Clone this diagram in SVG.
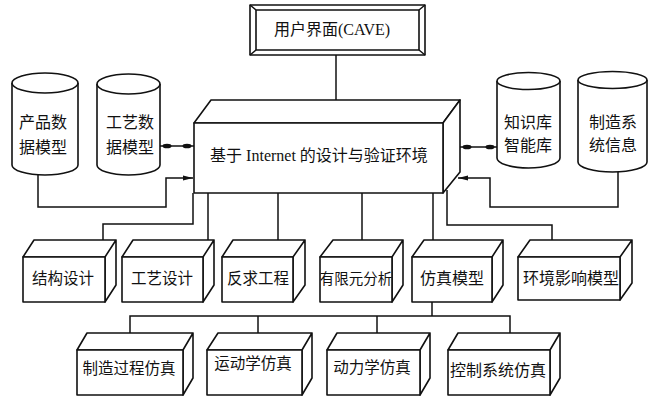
<svg xmlns="http://www.w3.org/2000/svg" width="655" height="397" viewBox="0 0 655 397">
<style>
.s{fill:#fff;stroke:#111;stroke-width:1.6;stroke-linejoin:round}
.c{fill:none;stroke:#111;stroke-width:1.5}
.t{font-family:"Liberation Serif","Noto Sans CJK SC",serif;font-size:15.5px;fill:#111;text-anchor:middle}
</style>
<defs>
<marker id="dot" markerUnits="userSpaceOnUse" markerWidth="14" markerHeight="8" viewBox="-12 -4 14 8" refX="0" refY="0" orient="auto-start-reverse" overflow="visible">
<ellipse cx="-7" cy="0" rx="4.5" ry="2.3" fill="#111"/>
</marker>
<marker id="arr" markerUnits="userSpaceOnUse" markerWidth="12" markerHeight="8" viewBox="-11 -4 12 8" refX="0" refY="0" orient="auto" overflow="visible">
<path d="M-10,-2.6 L0,0 L-10,2.6 z" fill="#111"/>
</marker>
</defs>
<rect width="655" height="397" fill="#fff"/>
<g id="connectors">
<path class="c" d="M336,55 V100"/>
<path class="c" d="M160,146 H194" marker-start="url(#dot)" marker-end="url(#dot)"/>
<path class="c" d="M38,175 V207 H166 V178 H193" marker-end="url(#arr)"/>
<path class="c" d="M460,147 H497" marker-start="url(#dot)" marker-end="url(#dot)"/>
<path class="c" d="M618,172 V207 H490 V178 H458" marker-end="url(#arr)"/>
<path class="c" d="M193,193 V224 H103 V240"/>
<path class="c" d="M208,193 V240"/>
<path class="c" d="M278,193 V242"/>
<path class="c" d="M362,193 V240"/>
<path class="c" d="M433,193 V240"/>
<path class="c" d="M447,190 V225 H552 V240"/>
<path class="c" d="M432,302 V316"/>
<path class="c" d="M130,333 V316 H510 V333"/>
<path class="c" d="M258,316 V333"/>
<path class="c" d="M377,316 V333"/>
</g>
<g id="ui">
<rect class="s" x="250" y="5" width="175" height="50"/>
<rect class="s" x="256" y="10" width="163" height="40"/>
<path class="c" d="M250,5 L256,10 M425,5 L419,10 M250,55 L256,50 M425,55 L419,50"/>
<text class="t" x="332" y="35" style="font-size:16px">用户界面(CAVE)</text>
</g>
<g id="platform">
<path class="s" d="M194,123 L211,100 H460 L443,123 Z"/>
<path class="s" d="M443,123 L460,100 V172 L443,193 Z"/>
<rect class="s" x="194" y="123" width="249" height="70"/>
<text class="t" x="319" y="161" style="font-size:16px">基于 Internet 的设计与验证环境</text>
</g>
<g id="db-product">
<path class="s" d="M12,83 V165 A33,10 0 0 0 78,165 V83"/>
<ellipse class="s" cx="45" cy="83" rx="33" ry="10"/>
<text class="t" x="43" y="128" style="font-size:16px">产品数</text>
<text class="t" x="43" y="153" style="font-size:16px">据模型</text>
</g>
<g id="db-process">
<path class="s" d="M97,84 V165 A31.5,10 0 0 0 160,165 V84"/>
<ellipse class="s" cx="128.5" cy="84" rx="31.5" ry="10"/>
<text class="t" x="130" y="128" style="font-size:16px">工艺数</text>
<text class="t" x="130" y="153" style="font-size:16px">据模型</text>
</g>
<g id="db-knowledge">
<path class="s" d="M497,81 V158 A31.5,10 0 0 0 560,158 V81"/>
<ellipse class="s" cx="528.5" cy="81" rx="31.5" ry="8.5"/>
<text class="t" x="528" y="128" style="font-size:16px">知识库</text>
<text class="t" x="528" y="151" style="font-size:16px">智能库</text>
</g>
<g id="db-manufacturing">
<path class="s" d="M578,80 V162 A34.5,10 0 0 0 647,162 V80"/>
<ellipse class="s" cx="612.5" cy="80" rx="34.5" ry="8.5"/>
<text class="t" x="613" y="128" style="font-size:16px">制造系</text>
<text class="t" x="613" y="151" style="font-size:16px">统信息</text>
</g>
<g id="m1">
<path class="s" d="M23,257 L34,240 H116 L105,257 Z M105,257 L116,240 V285 L105,302 Z"/>
<rect class="s" x="23" y="257" width="82" height="45"/>
<text class="t" x="63" y="284">结构设计</text>
</g>
<g id="m2">
<path class="s" d="M122,257 L133,240 H214 L203,257 Z M203,257 L214,240 V285 L203,302 Z"/>
<rect class="s" x="122" y="257" width="81" height="45"/>
<text class="t" x="162" y="284">工艺设计</text>
</g>
<g id="m3">
<path class="s" d="M222,257 L233,240 H305 L293,257 Z M293,257 L305,240 V285 L293,302 Z"/>
<rect class="s" x="222" y="257" width="71" height="45"/>
<text class="t" x="258" y="284">反求工程</text>
</g>
<g id="m4">
<path class="s" d="M320,257 L333,240 H403 L392,257 Z M392,257 L403,240 V285 L392,302 Z"/>
<rect class="s" x="320" y="257" width="72" height="45"/>
<text class="t" x="356" y="284" style="font-size:14.5px">有限元分析</text>
</g>
<g id="m5">
<path class="s" d="M412,257 L424,240 H503 L492,257 Z M492,257 L503,240 V285 L492,302 Z"/>
<rect class="s" x="412" y="257" width="80" height="45"/>
<text class="t" x="452" y="284" style="font-size:16px">仿真模型</text>
</g>
<g id="m6">
<path class="s" d="M518,257 L530,240 H632 L620,257 Z M620,257 L632,240 V283 L620,300 Z"/>
<rect class="s" x="518" y="257" width="102" height="43"/>
<text class="t" x="571" y="284" style="font-size:16px">环境影响模型</text>
</g>
<g id="s1">
<path class="s" d="M77,350 L87,333 H193 L183,350 Z M183,350 L193,333 V378 L183,395 Z"/>
<rect class="s" x="77" y="350" width="106" height="45"/>
<text class="t" x="129" y="374">制造过程仿真</text>
</g>
<g id="s2">
<path class="s" d="M207,350 L218,333 H312 L302,350 Z M302,350 L312,333 V378 L302,395 Z"/>
<rect class="s" x="207" y="350" width="95" height="45"/>
<text class="t" x="253" y="369">运动学仿真</text>
</g>
<g id="s3">
<path class="s" d="M327,350 L337,333 H430 L420,350 Z M420,350 L430,333 V378 L420,395 Z"/>
<rect class="s" x="327" y="350" width="93" height="45"/>
<text class="t" x="372" y="373">动力学仿真</text>
</g>
<g id="s4">
<path class="s" d="M448,350 L458,333 H560 L550,350 Z M550,350 L560,333 V378 L550,395 Z"/>
<rect class="s" x="448" y="350" width="102" height="45"/>
<text class="t" x="498" y="376" style="font-size:16px">控制系统仿真</text>
</g>
</svg>
